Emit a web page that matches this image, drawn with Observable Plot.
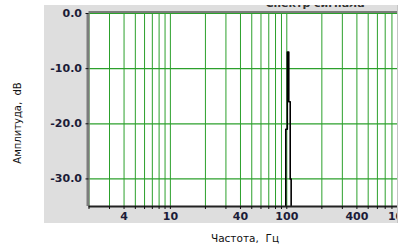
<!DOCTYPE html>
<html><head><meta charset="utf-8">
<script src="https://cdn.jsdelivr.net/npm/d3@7"></script>
<script src="https://cdn.jsdelivr.net/npm/@observablehq/plot@0.6"></script>
<style>
body{margin:0;background:#fff;}
#wrap{position:relative;width:402px;height:248px;overflow:hidden;background:#fff;font-family:"DejaVu Sans",sans-serif;color:#111;}
#panel{position:absolute;left:44px;top:5px;width:353px;height:218px;background:#dedede;overflow:hidden;border-right:1px solid #c4c4c4;}
#title{position:absolute;left:271px;top:-7.5px;transform:translateX(-50%);font-size:11px;line-height:11px;font-weight:bold;white-space:nowrap;color:#333;}
#ylab{position:absolute;left:17px;top:123px;transform:translate(-50%,-50%) rotate(-90deg);font-size:10px;white-space:pre;}
#xlab{position:absolute;left:245px;top:238px;transform:translate(-50%,-50%);font-size:10.5px;white-space:pre;}
#panel svg{position:absolute;left:0;top:0;max-width:none !important;}
</style></head>
<body>
<div id="wrap">
  <div id="panel"><div id="title">Спектр сигнала</div></div>
  <div id="ylab">Амплитуда,  dB</div>
  <div id="xlab">Частота,  Гц</div>
</div>
<script>
// grid / tick positions (Hz)
const gridFreqs = [2,3,4,5,6,7,8,9,10,20,30,40,50,60,70,80,90,100,200,300,400,500,600,700,800,900];
const labelFreqs = [4,10,40,100,400,1000];
const ampTicks = [0,-10,-20,-30];
const xDomain = [2, 900];
const yDomain = [-35, 0];
// spectrum (step curve)
const freq = [2, 98, 101, 104, 107, 109, 900];
const amp  = [-40, -21, -7, -16, -30, -40, -40];

const spectrum = freq.map((f, i) => ({f, a: amp[i]}));
const green = "#2ca02c";

const chart = Plot.plot({
  width: 380, height: 218,
  marginLeft: 44.5, marginRight: 26.6, marginTop: 8, marginBottom: 17,
  style: {background: "transparent", fontFamily: "DejaVu Sans", overflow: "visible", maxWidth: "none"},
  x: {type: "log", domain: xDomain},
  y: {domain: yDomain},
  marks: [
    Plot.frame({fill: "white", stroke: null}),
    Plot.gridX(gridFreqs, {stroke: green, strokeOpacity: 1, strokeWidth: 1}),
    Plot.gridY(ampTicks, {stroke: green, strokeOpacity: 1, strokeWidth: 1.2}),
    Plot.line(spectrum, {x: "f", y: "a", curve: "step-after", stroke: "black", strokeWidth: 1.6, clip: true}),
    Plot.ruleX([xDomain[0]], {stroke: "#7c7c7c", strokeWidth: 3, dx: -1}),
    Plot.ruleY([yDomain[1]], {stroke: "#7c7c7c", strokeWidth: 2, dy: -1.5}),
    Plot.ruleY([yDomain[0]], {stroke: "#222", strokeWidth: 2}),
    Plot.axisX(gridFreqs, {tickSize: 3, tickFormat: () => "", stroke: "#111", label: null}),
    Plot.text(labelFreqs, {x: d => d, frameAnchor: "bottom", dy: 6, lineAnchor: "top", text: d => `${d}`, fontSize: 11, fontWeight: "bold", fill: "#1c1c38"}),
    Plot.axisY(ampTicks, {tickSize: 3, tickPadding: 4, tickFormat: d => d.toFixed(1), fontSize: 11, fontWeight: "bold", fill: "#1c1c38", stroke: "#111", label: null})
  ]
});
document.getElementById("panel").appendChild(chart);
</script>
</body></html>
